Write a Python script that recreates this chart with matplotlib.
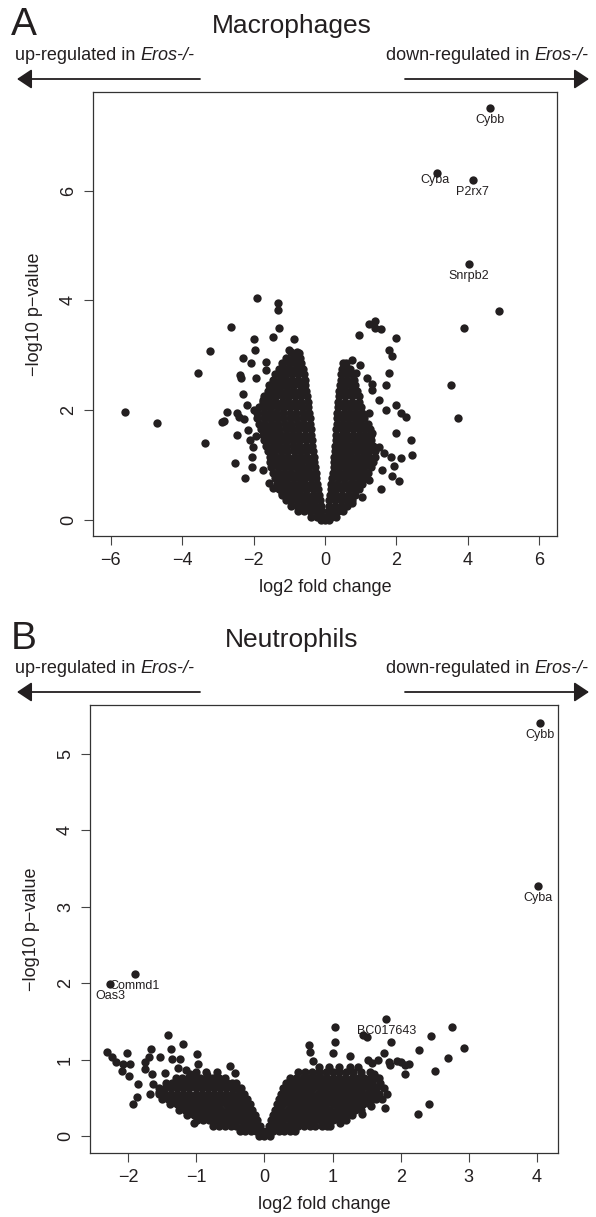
import numpy as np
import matplotlib.pyplot as plt
from matplotlib.patches import FancyArrowPatch

plt.rcParams['font.family'] = ['Liberation Sans', 'DejaVu Sans']

INK = '#231f20'
DOT = 36

# ---------------- Panel A: macrophages ----------------
mac_genes = ["Cybb", "Cyba", "P2rx7", "Snrpb2"]
mac_gene_fc = [4.62, 3.13, 4.14, 4.03]
mac_gene_p = [7.50, 6.33, 6.20, 4.67]

# genes lying outside the dense cloud
mac_fc = [-5.59, -4.70, -3.55, -3.36, -3.22, -2.63, -1.90, -1.31, -1.31, -1.29,
          -1.99, -1.45, -0.87, -1.96, -2.29, -2.07, -2.38, -2.35, -1.66, -1.66,
          -1.94, -1.00, -0.73, -0.67, -1.00, -2.29, -2.18, -2.74, -2.88, -2.83,
          -2.46, -2.40, -2.27, -2.17, -2.46, -2.03, -1.94, -2.05, -2.05, -2.52,
          -2.24, -1.75, -1.57, -1.47, -1.20, -1.01, -1.52, -1.75, -1.57, -1.80,
          -2.00, -2.10,
          1.39, 1.23, 1.56, 1.40, 0.95, 1.99, 1.79, 1.88, 1.79, 0.97,
          0.58, 0.86, 0.53, 1.70, 1.32, 1.98, 2.12, 2.26, 2.42, 2.44,
          2.12, 2.07, 1.56, 1.93, 1.88, 1.65, 1.98, 1.32, 1.51, 0.76,
          1.51, 1.70, 1.23, 1.32, 1.18, 0.77, 1.84, 1.60, 1.23, 1.04,
          4.87, 3.89, 3.52, 3.72]
mac_p = [1.96, 1.76, 2.67, 1.40, 3.07, 3.51, 4.04, 3.95, 3.82, 3.49,
         3.29, 3.33, 3.29, 3.09, 2.95, 2.85, 2.64, 2.58, 2.88, 2.73,
         2.58, 3.09, 3.04, 2.78, 2.67, 2.29, 2.09, 1.96, 1.78, 1.80,
         1.94, 1.88, 1.83, 1.64, 1.55, 1.33, 1.52, 1.15, 0.95, 1.04,
         0.76, 0.91, 0.67, 0.58, 0.49, 0.39, 1.85, 2.18, 2.45, 1.70,
         2.00, 1.45,
         3.62, 3.56, 3.47, 3.50, 3.36, 3.32, 3.10, 2.98, 2.67, 2.82,
         2.79, 2.67, 2.48, 2.45, 2.48, 2.09, 1.94, 1.87, 1.45, 1.18,
         1.12, 0.70, 0.55, 0.97, 0.79, 1.21, 1.58, 1.58, 1.33, 0.30,
         2.18, 2.00, 1.94, 2.36, 2.58, 2.91, 1.15, 0.91, 0.73, 0.42,
         3.80, 3.49, 2.45, 1.85]

# dense cloud, read row by row: one -log10 p level per row
mac_row_p = [0.00, 0.05, 0.15, 0.25, 0.35, 0.45, 0.55, 0.65, 0.75, 0.85,
             0.95, 1.05, 1.15, 1.25, 1.35, 1.45, 1.55, 1.65, 1.75, 1.85,
             1.95, 2.05, 2.15, 2.25, 2.35, 2.45, 2.55, 2.65, 2.75, 2.85,
             2.95, 3.05]
mac_row_fc = [
    [-0.12, 0.0, 0.12],
    [-0.40, -0.23, -0.06, 0.05, 0.18, 0.30],
    [-0.75, -0.58, -0.42, -0.26, -0.10, 0.08, 0.22, 0.36, 0.50],
    [-0.95, -0.78, -0.62, -0.45, -0.28, -0.12, 0.10, 0.27, 0.44, 0.62],
    [-1.10, -0.93, -0.76, -0.59, -0.42, -0.28, -0.15, 0.12, 0.28, 0.44, 0.60, 0.75],
    [-1.20, -1.03, -0.86, -0.69, -0.52, -0.35, -0.17, 0.14, 0.31, 0.49, 0.67, 0.85],
    [-1.30, -1.14, -0.98, -0.82, -0.66, -0.50, -0.35, -0.20, 0.16, 0.32, 0.48, 0.64, 0.80, 0.95],
    [-1.35, -1.19, -1.03, -0.87, -0.71, -0.55, -0.39, -0.22, 0.18, 0.35, 0.52, 0.70, 0.88, 1.05],
    [-1.40, -1.23, -1.07, -0.90, -0.74, -0.57, -0.40, -0.24, 0.20, 0.38, 0.56, 0.75, 0.94, 1.12],
    [-1.45, -1.28, -1.11, -0.94, -0.77, -0.60, -0.43, -0.26, 0.22, 0.38, 0.55, 0.71, 0.87, 1.04, 1.20],
    [-1.50, -1.33, -1.16, -0.99, -0.82, -0.65, -0.47, -0.28, 0.24, 0.41, 0.58, 0.75, 0.92, 1.10, 1.28],
    [-1.55, -1.37, -1.19, -1.01, -0.84, -0.66, -0.48, -0.30, 0.25, 0.43, 0.61, 0.79, 0.97, 1.16, 1.35],
    [-1.55, -1.38, -1.20, -1.03, -0.85, -0.67, -0.50, -0.32, 0.26, 0.42, 0.58, 0.74, 0.91, 1.07, 1.23, 1.40],
    [-1.60, -1.42, -1.24, -1.06, -0.88, -0.70, -0.52, -0.34, 0.28, 0.44, 0.60, 0.76, 0.92, 1.08, 1.24, 1.40],
    [-1.65, -1.47, -1.28, -1.10, -0.91, -0.73, -0.54, -0.36, 0.29, 0.44, 0.59, 0.74, 0.89, 1.04, 1.20, 1.35],
    [-1.70, -1.53, -1.36, -1.20, -1.03, -0.87, -0.70, -0.53, -0.37, 0.30, 0.47, 0.63, 0.80, 0.97, 1.13, 1.30],
    [-1.75, -1.58, -1.41, -1.24, -1.07, -0.90, -0.72, -0.55, -0.38, 0.31, 0.47, 0.63, 0.79, 0.96, 1.12, 1.28],
    [-1.80, -1.62, -1.45, -1.28, -1.10, -0.92, -0.75, -0.57, -0.40, 0.32, 0.48, 0.63, 0.79, 0.94, 1.10, 1.25],
    [-1.85, -1.67, -1.49, -1.31, -1.13, -0.95, -0.77, -0.59, -0.41, 0.33, 0.50, 0.68, 0.85, 1.02, 1.20],
    [-1.90, -1.72, -1.53, -1.35, -1.17, -0.98, -0.80, -0.61, -0.43, 0.34, 0.49, 0.64, 0.80, 0.95, 1.10],
    [-1.90, -1.72, -1.54, -1.36, -1.18, -0.99, -0.81, -0.63, -0.45, 0.35, 0.52, 0.70, 0.88, 1.05],
    [-1.85, -1.68, -1.50, -1.33, -1.16, -0.99, -0.82, -0.64, -0.47, 0.36, 0.52, 0.68, 0.84, 1.00],
    [-1.75, -1.57, -1.39, -1.21, -1.03, -0.85, -0.67, -0.49, 0.37, 0.56, 0.76, 0.95],
    [-1.70, -1.53, -1.36, -1.19, -1.02, -0.85, -0.68, -0.51, 0.38, 0.57, 0.76, 0.95],
    [-1.60, -1.42, -1.25, -1.07, -0.89, -0.71, -0.53, 0.40, 0.57, 0.73, 0.90],
    [-1.50, -1.34, -1.18, -1.03, -0.87, -0.71, -0.55, 0.42, 0.56, 0.71, 0.85],
    [-1.45, -1.27, -1.10, -0.92, -0.75, -0.57, 0.44, 0.62, 0.80],
    [-1.40, -1.24, -1.08, -0.92, -0.76, -0.60, 0.46, 0.60, 0.75],
    [-1.30, -1.13, -0.97, -0.80, -0.63, 0.48, 0.59, 0.70],
    [-1.20, -1.02, -0.84, -0.66, 0.50, 0.60],
    [-1.10, -0.90, -0.70],
    [-0.95, -0.78],
]

# ---------------- Panel B: neutrophils ----------------
neu_genes = ["Cybb", "Cyba", "BC017643", "Commd1", "Oas3"]
neu_gene_fc = [4.05, 4.02, 1.79, -1.90, -2.26]
neu_gene_p = [5.41, 3.27, 1.53, 2.12, 1.99]

neu_fc = [-2.31, -2.23, -2.02, -2.18, -2.07, -2.09, -1.97, -1.99, -1.93, -1.87,
          -1.86, -1.67, -1.75, -1.69, -1.53, -1.42, -1.37, -1.19, -1.36, -1.24,
          -1.27, -1.15, -0.99, -0.98, -0.51, -0.43, -1.04, -1.46, -1.64, -1.68,
          -1.55, -1.75, -1.65, -1.09, -0.84,
          1.04, 1.04, 1.01, 0.66, 0.67, 0.97, 1.11, 0.72, 1.45, 1.50,
          2.76, 2.45, 2.93, 2.27, 1.86, 1.75, 2.69, 2.50, 2.12, 2.07,
          2.07, 2.00, 1.95, 1.85, 1.83, 1.67, 1.52, 1.26, 1.58, 1.61,
          1.68, 1.57, 1.77, 2.42, 2.25, 1.44, 1.66, 1.51, 1.41, 1.58]
neu_p = [1.10, 1.04, 1.09, 0.97, 0.95, 0.86, 0.95, 0.79, 0.43, 0.51,
         0.69, 1.14, 0.97, 1.04, 1.04, 1.32, 1.14, 1.21, 1.01, 1.01,
         0.90, 0.87, 1.08, 0.95, 0.92, 0.83, 0.17, 0.83, 0.69, 0.55,
         0.58, 0.88, 0.82, 0.82, 0.80,
         1.43, 1.24, 1.09, 1.20, 1.10, 0.14, 0.17, 0.99, 1.33, 1.30,
         1.43, 1.31, 1.16, 1.13, 1.23, 1.09, 1.03, 0.85, 0.95, 0.93,
         0.82, 0.97, 0.98, 0.93, 0.97, 1.00, 1.00, 1.05, 0.96, 0.82,
         0.77, 0.40, 0.37, 0.43, 0.29, 0.29, 0.64, 0.69, 0.60, 0.73]

neu_row_p = [0.00, 0.07, 0.14, 0.21, 0.28, 0.35, 0.42, 0.49, 0.56, 0.63,
             0.70, 0.77, 0.84, 0.91]
neu_row_fc = [
    [-0.08, 0.0, 0.08],
    [-0.36, -0.28, -0.20, -0.12, -0.04, 0.04, 0.12, 0.21, 0.29, 0.37, 0.45],
    [-0.75, -0.66, -0.58, -0.49, -0.41, -0.32, -0.24, -0.15, -0.07,
     0.07, 0.16, 0.24, 0.33, 0.41, 0.50, 0.58, 0.67, 0.75, 0.84, 0.92],
    [-0.99, -0.90, -0.81, -0.72, -0.64, -0.55, -0.46, -0.37, -0.28, -0.20, -0.11,
     0.10, 0.19, 0.28, 0.37, 0.46, 0.55, 0.64, 0.73, 0.82, 0.91, 1.00, 1.10, 1.20],
    [-1.13, -1.04, -0.95, -0.86, -0.77, -0.68, -0.59, -0.50, -0.41, -0.32, -0.23, -0.14,
     0.13, 0.22, 0.31, 0.40, 0.49, 0.58, 0.66, 0.75, 0.84, 0.93, 1.02, 1.11, 1.20, 1.28],
    [-1.26, -1.17, -1.08, -0.99, -0.90, -0.81, -0.72, -0.63, -0.54, -0.45, -0.36, -0.27, -0.18,
     0.16, 0.25, 0.34, 0.43, 0.52, 0.61, 0.70, 0.79, 0.88, 0.97, 1.06, 1.15, 1.24, 1.33, 1.42],
    [-1.38, -1.29, -1.20, -1.11, -1.02, -0.93, -0.84, -0.75, -0.66, -0.57, -0.48, -0.39, -0.30, -0.21,
     0.19, 0.28, 0.37, 0.46, 0.55, 0.64, 0.73, 0.82, 0.91, 1.00, 1.09, 1.18, 1.27, 1.36, 1.45, 1.55],
    [-1.50, -1.41, -1.32, -1.23, -1.14, -1.05, -0.96, -0.87, -0.78, -0.69, -0.60, -0.51, -0.42, -0.33, -0.25,
     0.21, 0.30, 0.39, 0.48, 0.57, 0.66, 0.75, 0.84, 0.93, 1.02, 1.11, 1.20, 1.29, 1.38, 1.47, 1.56, 1.64, 1.72],
    [-1.55, -1.46, -1.37, -1.28, -1.19, -1.10, -1.01, -0.92, -0.83, -0.74, -0.65, -0.56, -0.47, -0.38, -0.30,
     0.24, 0.33, 0.42, 0.51, 0.60, 0.69, 0.78, 0.87, 0.96, 1.05, 1.14, 1.23, 1.32, 1.41, 1.50, 1.59, 1.68, 1.80],
    [-1.55, -1.46, -1.37, -1.28, -1.19, -1.10, -1.01, -0.92, -0.83, -0.74, -0.65, -0.56, -0.47, -0.41, -0.35,
     0.27, 0.36, 0.45, 0.54, 0.63, 0.72, 0.81, 0.90, 0.99, 1.08, 1.17, 1.26, 1.35, 1.44, 1.53, 1.62, 1.75],
    [-1.45, -1.36, -1.27, -1.18, -1.09, -1.00, -0.91, -0.82, -0.73, -0.64, -0.55, -0.48, -0.42,
     0.32, 0.41, 0.50, 0.59, 0.68, 0.77, 0.86, 0.95, 1.04, 1.13, 1.22, 1.31, 1.40, 1.49, 1.58, 1.70],
    [-1.30, -1.21, -1.12, -1.03, -0.94, -0.85, -0.76, -0.67, -0.58,
     0.38, 0.47, 0.56, 0.65, 0.74, 0.83, 0.92, 1.01, 1.10, 1.19, 1.28, 1.37, 1.46, 1.55, 1.65],
    [-1.00, -0.86, -0.70, 0.50, 0.60, 0.70, 0.80, 0.90, 1.00, 1.10, 1.20, 1.30, 1.42, 1.55],
    [0.80, 0.95, 1.10, 1.25, 1.38],
]


def flatten_rows(row_p, row_fc):
    xs, ys = [], []
    for p, fcs in zip(row_p, row_fc):
        xs += fcs
        ys += [p] * len(fcs)
    return xs, ys


W, H = 596, 1217


def fx(px):
    return px / W


def fy(py):
    return 1 - py / H


fig = plt.figure(figsize=(W / 100, H / 100), dpi=100)
renderer = fig.canvas.get_renderer()


def draw_panel(ax, row_p, row_fc, fc, p, gene_fc, gene_p, genes, offsets,
               xlim, ylim, xticks, yticks):
    cx, cy = flatten_rows(row_p, row_fc)
    ax.scatter(cx, cy, s=DOT, color=INK, lw=0)
    ax.scatter(fc, p, s=DOT, color=INK, lw=0)
    ax.scatter(gene_fc, gene_p, s=DOT, color=INK, lw=0)
    for g, x, y, off in zip(genes, gene_fc, gene_p, offsets):
        ax.annotate(g, (x, y), xytext=off, textcoords='offset pixels',
                    ha='center', va='center', fontsize=9, color=INK)
    ax.set_xlim(*xlim)
    ax.set_ylim(*ylim)
    ax.set_xticks(xticks)
    ax.set_yticks(yticks)
    ax.set_xticklabels(['\u2212%d' % -t if t < 0 else '%d' % t for t in xticks])
    ax.tick_params(length=6.5, width=0.8, color='#444444', labelsize=13,
                   pad=5, labelcolor=INK)
    ax.tick_params(axis='y', labelrotation=90)
    for lbl in ax.get_yticklabels():
        lbl.set_va('center')
    for sp in ax.spines.values():
        sp.set_linewidth(0.9)
        sp.set_color('#333333')
    ax.set_xlabel('log2 fold change', fontsize=13, color=INK, labelpad=7)
    ax.set_ylabel('\u2212log10 p\u2212value', fontsize=13, color=INK, labelpad=12)


def header(letter, title, base, box_top):
    # base: pixel row of the letter / title baseline
    fig.text(fx(11), fy(base), letter, fontsize=28, ha='left', va='baseline', color=INK)
    fig.text(fx(292), fy(base - 2), title, fontsize=19, ha='center', va='baseline', color=INK)
    y_txt = box_top - 32
    t = fig.text(fx(15), fy(y_txt), 'up-regulated in', fontsize=13,
                 ha='left', va='baseline', color=INK)
    bb = t.get_window_extent(renderer)
    fig.text((bb.x1 + 5) / W, fy(y_txt), 'Eros-/-', fontsize=13, style='italic',
             ha='left', va='baseline', color=INK)
    t2 = fig.text(fx(588), fy(y_txt), 'Eros-/-', fontsize=13, style='italic',
                  ha='right', va='baseline', color=INK)
    bb2 = t2.get_window_extent(renderer)
    fig.text((bb2.x0 - 5) / W, fy(y_txt), 'down-regulated in', fontsize=13,
             ha='right', va='baseline', color=INK)
    y_arr = box_top - 13
    for x0, x1 in [(200, 17), (405, 589)]:
        fig.add_artist(FancyArrowPatch(
            (fx(x0), fy(y_arr)), (fx(x1), fy(y_arr)), transform=fig.transFigure,
            arrowstyle='-|>,head_length=0.45,head_width=0.3', mutation_scale=20,
            lw=1.3, color=INK, shrinkA=0, shrinkB=0))


# panel A
ax1 = fig.add_axes([fx(93), fy(536), (557 - 93) / W, (536 - 92) / H])
draw_panel(ax1, mac_row_p, mac_row_fc, mac_fc, mac_p, mac_gene_fc, mac_gene_p,
           mac_genes, [(0, -12), (-2, -7), (0, -12), (0, -12)],
           (-6.5, 6.5), (-0.3, 7.8), [-6, -4, -2, 0, 2, 4, 6], [0, 2, 4, 6])
header('A', 'Macrophages', 35, 92)

# panel B
ax2 = fig.add_axes([fx(90), fy(1153), (558 - 90) / W, (1153 - 705) / H])
draw_panel(ax2, neu_row_p, neu_row_fc, neu_fc, neu_p, neu_gene_fc, neu_gene_p,
           neu_genes, [(0, -12)] * 5,
           (-2.56, 4.31), (-0.217, 5.64), [-2, -1, 0, 1, 2, 3, 4], [0, 1, 2, 3, 4, 5])
header('B', 'Neutrophils', 649, 705)

fig.savefig('out.png', dpi=100)
